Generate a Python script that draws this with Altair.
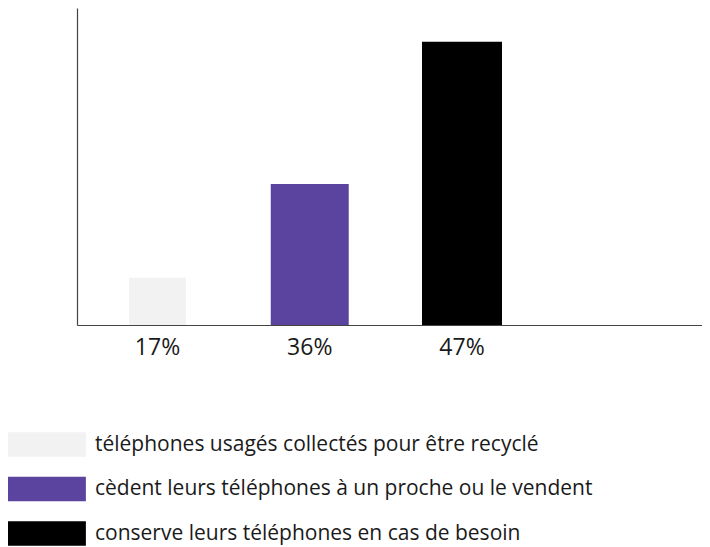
import altair as alt
import pandas as pd

# Data
categories = [
    "téléphones usagés collectés pour être recyclé",
    "\u00a0cèdent leurs téléphones à un proche ou le vendent",
    "conserve leurs téléphones en cas de besoin",
]
labels = ["17%", "36%", "47%"]
position = [1, 2, 3]
# drawn bar height, as a percentage of the vertical axis length
bar_height = [14.5, 43.4, 87.1]

colors = ["#f2f2f2", "#5b44a0", "#000000"]
bar_widths = [57, 78, 80]

df = pd.DataFrame({
    "cat": categories,
    "label": labels,
    "pos": position,
    "h": bar_height,
})

FONT = "Open Sans"
VIEW_W = 625
# x scale: one unit between bar centres (about 152 px)
x_domain = [0.4713, 0.4713 + VIEW_W / 152.25]

x = alt.X("pos:Q", scale=alt.Scale(domain=x_domain, nice=False, zero=False, padding=0),
          axis=alt.Axis(title=None, labels=False, ticks=False, grid=False,
                        domainColor="#444444", domainWidth=1.2))
y = alt.Y("h:Q", scale=alt.Scale(domain=[0, 97.5], nice=False),
          axis=alt.Axis(title=None, labels=False, ticks=False, grid=False,
                        domainColor="#444444", domainWidth=1.2))

bars = alt.Chart(df).mark_bar(stroke=None).encode(
    x=x,
    y=y,
    color=alt.Color(
        "cat:N",
        scale=alt.Scale(domain=categories, range=colors),
        sort=categories,
        legend=alt.Legend(
            title=None,
            orient="none",
            legendX=-82,
            legendY=424,
            symbolType="M0,-1H6.4V1H0Z",
            symbolSize=600,
            symbolStrokeWidth=0,
            symbolOpacity=1,
            rowPadding=19.5,
            labelFontSize=21,
            labelFont=FONT,
            labelColor="#1a1a1a",
            labelLimit=700,
            labelOffset=75,
            padding=0,
        ),
    ),
    size=alt.Size("pos:N", scale=alt.Scale(type="ordinal", domain=position, range=bar_widths), legend=None),
)

texts = alt.Chart(df).mark_text(
    fontSize=23, font=FONT, color="#1a1a1a", baseline="alphabetic", dy=30
).encode(
    x="pos:Q",
    y=alt.datum(0),
    text="label:N",
)

chart = alt.layer(bars, texts).properties(
    width=VIEW_W,
    height=317,
    background="white",
    autosize=alt.AutoSizeParams(type="none"),
    padding={"left": 69, "top": 0, "right": 0, "bottom": 222},
).configure_view(stroke=None)

chart.save("out.html", embed_options={"renderer": "svg", "actions": False})
